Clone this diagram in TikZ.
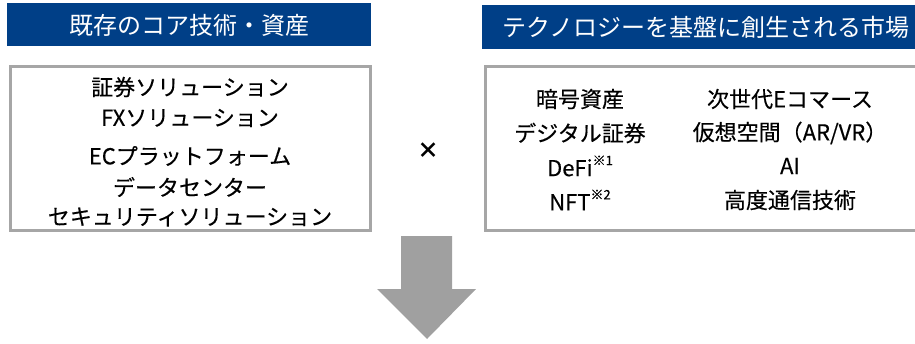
\documentclass[tikz,border=0pt]{standalone}
\usepackage{fontspec}
\setmainfont{Noto Sans CJK JP}
\newfontfamily\itemfont{Noto Sans CJK JP}[FakeBold=0.3]
\definecolor{hdrblue}{HTML}{003F87}
\definecolor{boxgray}{HTML}{A6A6A6}
\definecolor{arrgray}{HTML}{A0A0A0}
\begin{document}
\begin{tikzpicture}[x=1pt,y=-1pt,
  hdr/.style={fill=hdrblue,draw=none},
  hdrtext/.style={text=white,font=\fontsize{24}{24}\selectfont,inner sep=0pt},
  frame/.style={draw=boxgray,line width=3pt,fill=white},
  item/.style={font=\itemfont\fontsize{22}{22}\selectfont,inner sep=0pt,text=black}]
\useasboundingbox (0,0) rectangle (915,343);
\clip (0,0) rectangle (915,343);
% headers
\fill[hdr] (7,3) rectangle (371,46);
\node[hdrtext] (h1) at (189,25) {既存のコア技術・資産};
\fill[hdr] (482,5) rectangle (920,49);
\node[hdrtext] (h2) at (706,27) {テクノロジーを基盤に創生される市場};
% boxes
\draw[frame] (10,66) rectangle (370,230);
\draw[frame] (485,66) rectangle (925,230);
% left items
\node[item] (l1) at (190,87) {証券ソリューション};
\node[item] (l2) at (190,118) {FXソリューション};
\node[item] (l3) at (190,156) {ECプラットフォーム};
\node[item] (l4) at (190,187) {データセンター};
\node[item] (l5) at (190,217) {セキュリティソリューション};
% right items
\node[item] (r1) at (580,99) {暗号資産};
\node[item] (r2) at (580,133) {デジタル証券};
\node[item] (r3) at (580,166) {DeFi\raisebox{0.5em}{\fontsize{13}{13}\selectfont ※1}};
\node[item] (r4) at (580,200) {NFT\raisebox{0.5em}{\fontsize{13}{13}\selectfont ※2}};
\node[item] (r5) at (790,99) {次世代Eコマース};
\node[item] (r6) at (790,133) {仮想空間（AR/VR）};
\node[item] (r7) at (790,166) {AI};
\node[item] (r8) at (790,200) {高度通信技術};
% times
\node[font=\fontsize{22}{22}\selectfont\bfseries,inner sep=0pt] (x) at (428,151) {×};
% arrow
\fill[arrgray] (401,236) -- (452,236) -- (452,289) -- (476,289) -- (427,339) -- (377,289) -- (401,289) -- cycle;
\end{tikzpicture}
\end{document}
